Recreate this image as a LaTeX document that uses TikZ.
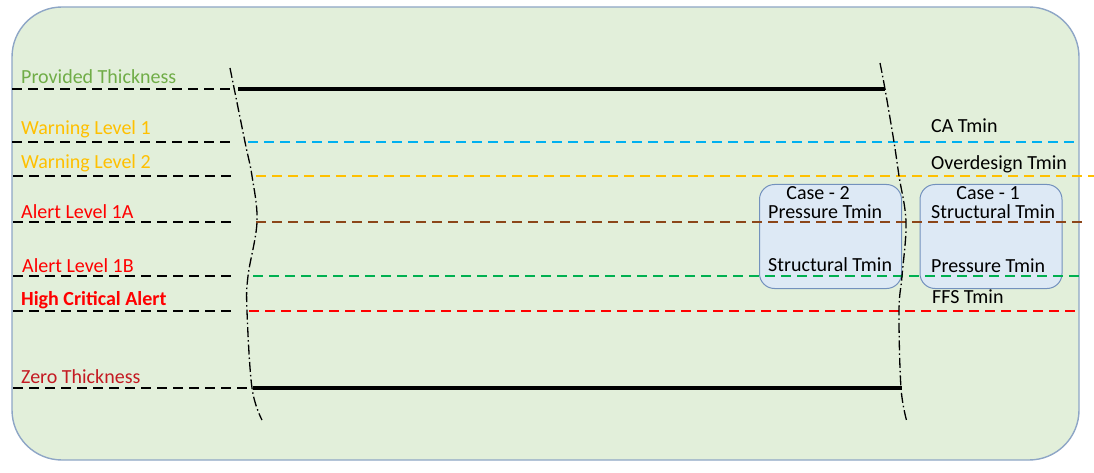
\documentclass[tikz,border=0pt]{standalone}
\usepackage{fontspec}
\setmainfont{Carlito}

\definecolor{bggreen}{HTML}{E2EFDA}
\definecolor{bgborder}{HTML}{8EA6C6}
\definecolor{boxfill}{HTML}{DDE9F5}
\definecolor{boxborder}{HTML}{7391BD}
\definecolor{txtgreen}{HTML}{70AD47}
\definecolor{txtyellow}{HTML}{FFC000}
\definecolor{txtred}{HTML}{FF0000}
\definecolor{txtdarkred}{HTML}{C41A22}
\definecolor{lineblue}{HTML}{00B0F0}
\definecolor{linebrown}{HTML}{8C4619}
\definecolor{linegreen}{HTML}{00B050}

\begin{document}
\begin{tikzpicture}[x=1pt, y=-1pt,
    every node/.style={font=\fontsize{20}{24}\selectfont, inner sep=0pt},
    levelline/.style={dash pattern=on 10pt off 6pt, line width=2.2pt},
    wall/.style={line width=4.8pt},
    breakline/.style={dash pattern=on 10pt off 3pt on 1.5pt off 3pt, line width=1.3pt},
    casebox/.style={draw=boxborder, fill=boxfill, rounded corners=15pt, line width=1pt,
        minimum width=142pt, minimum height=104pt}]
    \useasboundingbox (0,0) rectangle (1094,473);
    \draw [draw=bgborder, fill=bggreen, line width=1.4pt, rounded corners=50pt]
        (12,7) rectangle (1079,460);

    % case boxes
    \node (case2) [casebox] at (830.5,236.5) {};
    \node (case1) [casebox] at (991,236.5) {};

    % level coordinates
    \coordinate (P0) at (12,89);  \coordinate (P1) at (233,89);
    \coordinate (P2) at (238,89); \coordinate (P3) at (885,89);
    \coordinate (W0) at (12,142); \coordinate (W1) at (233,142);
    \coordinate (W2) at (248,142); \coordinate (W3) at (1076,142);
    \coordinate (V0) at (13,176); \coordinate (V1) at (233,176);
    \coordinate (V2) at (256,176); \coordinate (V3) at (1094,176);
    \coordinate (A0) at (13,222); \coordinate (A1) at (233,222);
    \coordinate (A2) at (256,222); \coordinate (A3) at (1082,222);
    \coordinate (B0) at (13,276); \coordinate (B1) at (233,276);
    \coordinate (B2) at (253,276); \coordinate (B3) at (1080,276);
    \coordinate (H0) at (13,311); \coordinate (H1) at (233,311);
    \coordinate (H2) at (249,311); \coordinate (H3) at (1076,311);
    \coordinate (Z0) at (13,388); \coordinate (Z1) at (248,388);
    \coordinate (Z2) at (253,388); \coordinate (Z3) at (902,388);

    \draw [levelline] (P0) -- (P1);
    \draw [wall] (P2) -- (P3);
    \draw [levelline] (W0) -- (W1);
    \draw [levelline, lineblue] (W2) -- (W3);
    \draw [levelline] (V0) -- (V1);
    \draw [levelline, txtyellow] (V2) -- (V3);
    \draw [levelline] (A0) -- (A1);
    \draw [levelline, linebrown] (A2) -- (A3);
    \draw [levelline] (B0) -- (B1);
    \draw [levelline, linegreen] (B2) -- (B3);
    \draw [levelline] (H0) -- (H1);
    \draw [levelline, txtred] (H2) -- (H3);
    \draw [levelline] (Z0) -- (Z1);
    \draw [wall] (Z2) -- (Z3);

    % break lines
    \draw [breakline] plot [smooth, tension=0.6] coordinates
        {(230,68) (245,142) (252,176) (257,222) (248,276) (247,311) (252,388) (262,420)};
    \draw [breakline] plot [smooth, tension=0.6] coordinates
        {(880,63) (885,89) (894,142) (899,176) (906,222) (902,276) (899,311) (901,388) (907,422)};

    % left labels
    \node (lp) [anchor=base west, txtgreen] at (21,84) {Provided Thickness};
    \node (lw1) [anchor=base west, txtyellow] at (21,135) {Warning Level 1};
    \node (lw2) [anchor=base west, txtyellow] at (21,168) {Warning Level 2};
    \node (la) [anchor=base west, txtred] at (21,218) {Alert Level 1A};
    \node (lb) [anchor=base west, txtred] at (22,272) {Alert Level 1B};
    \node (lh) [anchor=base west, txtred, font=\fontsize{20}{24}\selectfont\bfseries] at (21,305) {High Critical Alert};
    \node (lz) [anchor=base west, txtdarkred] at (21,383) {Zero Thickness};

    % right labels
    \node (rca) [anchor=base west] at (931,133) {CA Tmin};
    \node (rod) [anchor=base west] at (931,170) {Overdesign Tmin};
    \node (rffs) [anchor=base west] at (932,303) {FFS Tmin};

    % box texts
    \node (c2t) [anchor=base] at (818,200) {Case - 2};
    \node (c2p) [anchor=base west] at (768,218) {Pressure Tmin};
    \node (c2s) [anchor=base west] at (768,271) {Structural Tmin};
    \node (c1t) [anchor=base] at (988,200) {Case - 1};
    \node (c1s) [anchor=base west] at (931,218) {Structural Tmin};
    \node (c1p) [anchor=base west] at (931,272) {Pressure Tmin};
\end{tikzpicture}
\end{document}
